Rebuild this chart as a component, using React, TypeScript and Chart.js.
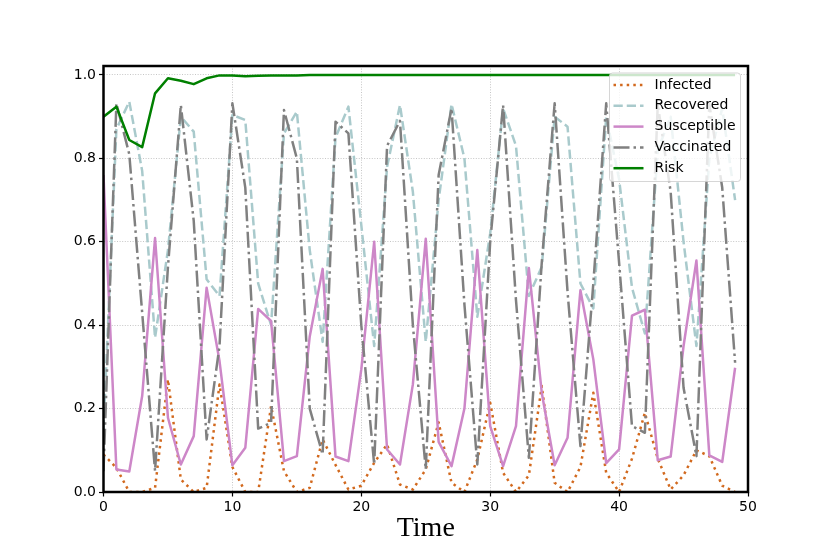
import React, { useEffect, useRef } from 'react';
import { Chart, registerables } from 'chart.js';

Chart.register(...registerables);

const timeSteps = [
  0, 1, 2, 3, 4, 5, 6, 7, 8, 9, 10, 11, 12, 13, 14, 15, 16, 17, 18, 19, 20, 21, 22, 23, 24,
  25, 26, 27, 28, 29, 30, 31, 32, 33, 34, 35, 36, 37, 38, 39, 40, 41, 42, 43, 44, 45, 46, 47, 48, 49,
];

const infected = [
  0.09, 0.058, 0.0, 0.0, 0.01, 0.27, 0.03, 0.0, 0.01, 0.258,
  0.06, 0.0, 0.0, 0.206, 0.05, 0.0, 0.01, 0.126, 0.065, 0.006,
  0.015, 0.07, 0.114, 0.018, 0.006, 0.054, 0.167, 0.022, 0.0, 0.078,
  0.214, 0.046, 0.0, 0.04, 0.254, 0.022, 0.0, 0.06, 0.238, 0.046,
  0.0, 0.08, 0.19, 0.08, 0.006, 0.04, 0.1, 0.086, 0.015, 0.0,
];

const recovered = [
  0.15, 0.87, 0.936, 0.77, 0.37, 0.58, 0.9, 0.864, 0.51, 0.47,
  0.904, 0.892, 0.5, 0.4, 0.86, 0.912, 0.58, 0.36, 0.85, 0.924,
  0.64, 0.35, 0.78, 0.928, 0.72, 0.36, 0.7, 0.93, 0.8, 0.42,
  0.62, 0.92, 0.83, 0.47, 0.54, 0.9, 0.876, 0.5, 0.44, 0.9,
  0.75, 0.49, 0.38, 0.82, 0.9, 0.6, 0.35, 0.8, 0.92, 0.7,
];

const susceptible = [
  0.76, 0.054, 0.049, 0.23, 0.609, 0.178, 0.066, 0.134, 0.49, 0.314,
  0.064, 0.106, 0.439, 0.41, 0.074, 0.086, 0.373, 0.535, 0.085, 0.074,
  0.294, 0.6, 0.102, 0.066, 0.258, 0.607, 0.12, 0.062, 0.2, 0.58,
  0.158, 0.062, 0.158, 0.537, 0.238, 0.064, 0.13, 0.484, 0.318, 0.069,
  0.102, 0.423, 0.437, 0.076, 0.085, 0.35, 0.555, 0.088, 0.072, 0.298,
];

const vaccinated = [
  0.05, 0.932, 0.81, 0.43, 0.05, 0.54, 0.928, 0.65, 0.126, 0.35,
  0.932, 0.73, 0.152, 0.166, 0.916, 0.8, 0.2, 0.09, 0.888, 0.86,
  0.4, 0.066, 0.83, 0.89, 0.4, 0.054, 0.76, 0.92, 0.45, 0.066,
  0.6, 0.928, 0.46, 0.082, 0.55, 0.932, 0.48, 0.11, 0.5, 0.932,
  0.55, 0.158, 0.142, 0.93, 0.72, 0.25, 0.086, 0.93, 0.73, 0.31,
];

const risk = [
  0.9, 0.924, 0.844, 0.827, 0.956, 0.992, 0.986, 0.978, 0.992, 0.999,
  0.999, 0.997, 0.998, 0.999, 0.999, 0.999, 1.0, 1.0, 1.0, 1.0,
  1.0, 1.0, 1.0, 1.0, 1.0, 1.0, 1.0, 1.0, 1.0, 1.0,
  1.0, 1.0, 1.0, 1.0, 1.0, 1.0, 1.0, 1.0, 1.0, 1.0,
  1.0, 1.0, 1.0, 1.0, 1.0, 1.0, 1.0, 1.0, 1.0, 1.0,
];

const xTickValues = [0, 10, 20, 30, 40, 50];
const yTickValues = [0, 0.2, 0.4, 0.6, 0.8, 1.0];
const xAxisTitle = 'Time';

const seriesLabels = ['Infected', 'Recovered', 'Susceptible', 'Vaccinated', 'Risk'];
const seriesValues = [infected, recovered, susceptible, vaccinated, risk];
const seriesColors = ['#d2691e', '#a9cacc', '#cd87c8', '#808080', '#008000'];
const seriesDashes: number[][] = [[2.5, 4.1], [9.25, 4], [], [16, 4, 2.5, 4], []];

const TICK_FONT = { family: '"DejaVu Sans", sans-serif', size: 14 };

const framePlugin = {
  id: 'frame',
  afterDatasetsDraw(chart: any) {
    const { ctx, chartArea } = chart;
    ctx.save();
    ctx.strokeStyle = '#000000';
    ctx.lineWidth = 2.5;
    ctx.setLineDash([]);
    ctx.strokeRect(chartArea.left, chartArea.top, chartArea.right - chartArea.left, chartArea.bottom - chartArea.top);
    ctx.restore();
  },
};

const insideLegendPlugin = {
  id: 'insideLegend',
  afterDraw(chart: any) {
    const { ctx, chartArea } = chart;
    const datasets = chart.data.datasets;
    const boxRight = chartArea.right - 7.5;
    const boxTop = chartArea.top + 7;
    const boxW = 131;
    const rowH = 20.8;
    const boxH = 108.5;
    const boxLeft = boxRight - boxW;
    ctx.save();
    ctx.beginPath();
    const r = 3;
    ctx.moveTo(boxLeft + r, boxTop);
    ctx.lineTo(boxRight - r, boxTop);
    ctx.quadraticCurveTo(boxRight, boxTop, boxRight, boxTop + r);
    ctx.lineTo(boxRight, boxTop + boxH - r);
    ctx.quadraticCurveTo(boxRight, boxTop + boxH, boxRight - r, boxTop + boxH);
    ctx.lineTo(boxLeft + r, boxTop + boxH);
    ctx.quadraticCurveTo(boxLeft, boxTop + boxH, boxLeft, boxTop + boxH - r);
    ctx.lineTo(boxLeft, boxTop + r);
    ctx.quadraticCurveTo(boxLeft, boxTop, boxLeft + r, boxTop);
    ctx.closePath();
    ctx.fillStyle = 'rgba(255,255,255,0.8)';
    ctx.fill();
    ctx.strokeStyle = 'rgba(204,204,204,0.8)';
    ctx.lineWidth = 1;
    ctx.stroke();

    ctx.font = '14px "DejaVu Sans", sans-serif';
    ctx.textBaseline = 'middle';
    ctx.textAlign = 'left';
    datasets.forEach((ds: any, i: number) => {
      const y = boxTop + 12 + i * rowH;
      ctx.beginPath();
      ctx.strokeStyle = ds.borderColor;
      ctx.lineWidth = ds.borderWidth;
      ctx.setLineDash(ds.borderDash || []);
      ctx.lineCap = 'butt';
      ctx.moveTo(boxLeft + 4, y);
      ctx.lineTo(boxLeft + 34, y);
      ctx.stroke();
      ctx.setLineDash([]);
      ctx.fillStyle = '#000000';
      ctx.fillText(ds.label, boxLeft + 45, y);
    });
    ctx.restore();
  },
};

export default function App() {
  const canvasRef = useRef<HTMLCanvasElement | null>(null);

  useEffect(() => {
    if (!canvasRef.current) return;
    const datasets = seriesLabels.map((label, i) => ({
      label,
      data: seriesValues[i].map((v, j) => ({ x: timeSteps[j], y: v })),
      borderColor: seriesColors[i],
      backgroundColor: seriesColors[i],
      borderWidth: 2.5,
      borderDash: seriesDashes[i],
      borderCapStyle: 'butt' as const,
      borderJoinStyle: 'round' as const,
      pointRadius: 0,
      pointHoverRadius: 0,
      tension: 0,
      fill: false,
      order: seriesLabels.length - i,
    }));

    const chart = new Chart(canvasRef.current, {
      type: 'line',
      data: { datasets },
      options: {
        animation: false,
        responsive: false,
        maintainAspectRatio: false,
        devicePixelRatio: 1,
        layout: { padding: { left: 0, right: 82, top: 66, bottom: 0 } },
        plugins: {
          legend: { display: false },
          tooltip: { enabled: false },
        },
        scales: {
          x: {
            type: 'linear',
            min: 0,
            max: 50,
            afterBuildTicks: (scale: any) => {
              scale.ticks = xTickValues.map((v) => ({ value: v }));
            },
            afterFit: (scale: any) => {
              scale.height = 62;
            },
            ticks: {
              color: '#000000',
              font: TICK_FONT,
              padding: 2,
              maxRotation: 0,
              autoSkip: false,
              callback: (v: any) => String(v),
            },
            grid: {
              color: '#b8b8b8',
              lineWidth: 0.8,
              tickColor: '#000000',
              tickWidth: 1.2,
              tickLength: 4.5,
              drawTicks: true,
            },
            border: { display: false, dash: [1, 1.6] },
            title: {
              display: true,
              text: xAxisTitle,
              color: '#000000',
              font: { family: '"Liberation Serif", "Times New Roman", serif', size: 28, weight: 'normal' },
              padding: { top: 0, bottom: 9 },
            },
          },
          y: {
            type: 'linear',
            min: 0,
            max: 1.0215,
            afterBuildTicks: (scale: any) => {
              scale.ticks = yTickValues.map((v) => ({ value: v }));
            },
            afterFit: (scale: any) => {
              scale.width = 103.5;
            },
            ticks: {
              color: '#000000',
              font: TICK_FONT,
              padding: 3,
              autoSkip: false,
              callback: (v: any) => Number(v).toFixed(1),
            },
            grid: {
              color: '#b8b8b8',
              lineWidth: 0.8,
              tickColor: '#000000',
              tickWidth: 1.2,
              tickLength: 4.5,
              drawTicks: true,
            },
            border: { display: false, dash: [1, 1.6] },
          },
        },
      },
      plugins: [framePlugin, insideLegendPlugin],
    } as any);

    return () => {
      chart.destroy();
    };
  }, []);

  return (
    <div style={{ position: 'absolute', left: 0, top: 0, width: 830, height: 554, background: '#ffffff' }}>
      <canvas ref={canvasRef} width={830} height={554} style={{ width: 830, height: 554, display: 'block' }} />
    </div>
  );
}
